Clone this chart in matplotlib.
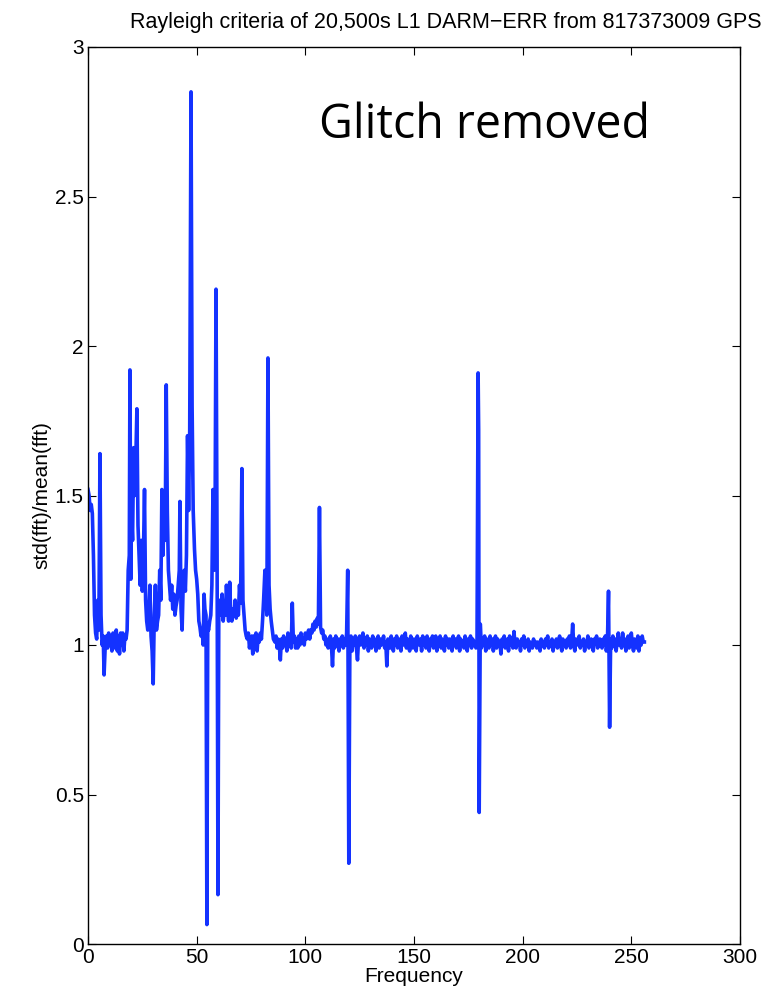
import matplotlib
matplotlib.use("Agg")
import matplotlib.pyplot as plt

# std(fft)/mean(fft), low-frequency part (0-85 Hz)
freq_low = [0.0, 0.5, 1.0, 1.5, 2.0, 2.5, 3.0, 3.5, 4.0, 4.5, 5.0, 5.5, 6.0, 6.5, 7.0, 7.4,
            8.0, 8.5, 9.0, 9.5, 10.0, 10.5, 11.0, 11.5, 12.0, 12.5, 13.0, 13.5, 14.0, 14.5,
            15.0, 15.5, 16.0, 16.5, 17.0, 17.5, 18.0, 18.5, 19.0, 19.3, 19.7, 20.0, 20.5,
            21.0, 21.5, 22.0, 22.5, 23.0, 23.5, 24.0, 24.5, 25.0, 25.5, 26.0, 26.5, 27.0,
            27.5, 28.0, 28.5, 29.0, 29.5, 30.0, 30.5, 31.0, 31.5, 32.0, 32.5, 33.0, 33.5,
            34.0, 34.5, 35.0, 35.5, 36.0, 36.5, 37.0, 37.5, 38.0, 38.5, 39.0, 39.5, 40.0,
            40.5, 41.0, 41.5, 42.0, 42.3, 42.8, 43.3, 43.8, 44.3, 44.8, 45.3, 45.8, 46.3,
            46.8, 47.4, 47.9, 48.4, 49.0, 49.5, 50.0, 50.5, 51.0, 51.5, 52.0, 52.5, 53.0,
            53.4, 53.8, 54.3, 54.7, 55.1, 55.5, 56.0, 56.5, 57.0, 57.5, 58.0, 58.4, 58.9,
            59.4, 59.8, 60.2, 60.7, 61.2, 61.7, 62.2, 62.7, 63.2, 63.7, 64.2, 64.7, 65.2,
            65.7, 66.2, 66.7, 67.2, 67.7, 68.2, 68.7, 69.2, 69.7, 70.2, 70.8, 71.3, 71.8,
            72.3, 72.8, 73.3, 73.8, 74.3, 74.8, 75.3, 75.8, 76.3, 76.8, 77.3, 77.8, 78.3,
            78.8, 79.3, 79.8, 80.3, 80.8, 81.4, 81.9, 82.3, 82.8, 83.3, 83.8, 84.3, 84.8,
            85.3]
ratio_low = [1.52, 1.50, 1.45, 1.47, 1.44, 1.30, 1.10, 1.04, 1.02, 1.15, 1.05, 1.64, 1.10, 1.00, 1.03, 0.90,
             1.01, 1.03, 0.99, 1.04, 1.00, 1.03, 0.98, 1.04, 1.01, 0.99, 1.05, 0.98, 1.03, 0.97,
             1.04, 1.00, 1.04, 0.98, 1.03, 1.02, 1.05, 1.25, 1.30, 1.92, 1.22, 1.45, 1.35,
             1.66, 1.50, 1.62, 1.79, 1.40, 1.30, 1.20, 1.35, 1.18, 1.30, 1.52, 1.15, 1.08,
             1.05, 1.12, 1.20, 1.03, 0.98, 0.87, 1.10, 1.20, 1.05, 1.08, 1.10, 1.25, 1.15,
             1.52, 1.30, 1.45, 1.35, 1.87, 1.45, 1.25, 1.20, 1.15, 1.20, 1.12, 1.17, 1.10,
             1.13, 1.15, 1.20, 1.25, 1.48, 1.12, 1.05, 1.20, 1.25, 1.18, 1.30, 1.70, 1.45,
             1.72, 2.85, 1.80, 1.45, 1.32, 1.25, 1.22, 1.17, 1.08, 1.06, 1.03, 1.05, 1.00,
             1.17, 1.12, 1.10, 0.065, 1.06, 1.05, 1.08, 1.10, 1.20, 1.52, 1.25, 1.30, 2.19,
             1.30, 0.165, 1.15, 1.12, 1.10, 1.17, 1.08, 1.12, 1.10, 1.20, 1.13, 1.08, 1.21,
             1.10, 1.08, 1.12, 1.10, 1.15, 1.09, 1.12, 1.10, 1.20, 1.14, 1.59, 1.15, 1.10,
             1.05, 1.03, 1.02, 1.04, 0.99, 1.02, 1.03, 0.97, 1.03, 1.02, 1.04, 0.98, 1.03,
             1.01, 1.04, 1.02, 1.08, 1.15, 1.25, 1.20, 1.10, 1.96, 1.20, 1.12, 1.08, 1.05,
             1.02]

# flat part (86-256 Hz, 0.5 Hz bins), mostly ~1 with the line harmonics
freq_high = [86.0, 86.5, 87.0, 87.5, 88.0, 88.5, 89.0, 89.5, 90.0, 90.5, 91.0, 91.5, 92.0, 92.5, 93.0, 93.5, 94.0, 94.5, 95.0, 95.5,
             96.0, 96.5, 97.0, 97.5, 98.0, 98.5, 99.0, 99.5, 100.0, 100.5, 101.0, 101.5, 102.0, 102.5, 103.0, 103.5, 104.0, 104.5, 105.0, 105.5,
             106.0, 106.5, 107.0, 107.5, 108.0, 108.5, 109.0, 109.5, 110.0, 110.5, 111.0, 111.5, 112.0, 112.5, 113.0, 113.5, 114.0, 114.5, 115.0, 115.5,
             116.0, 116.5, 117.0, 117.5, 118.0, 118.5, 119.0, 119.5, 120.0, 120.5, 121.0, 121.5, 122.0, 122.5, 123.0, 123.5, 124.0, 124.5, 125.0, 125.5,
             126.0, 126.5, 127.0, 127.5, 128.0, 128.5, 129.0, 129.5, 130.0, 130.5, 131.0, 131.5, 132.0, 132.5, 133.0, 133.5, 134.0, 134.5, 135.0, 135.5,
             136.0, 136.5, 137.0, 137.5, 138.0, 138.5, 139.0, 139.5, 140.0, 140.5, 141.0, 141.5, 142.0, 142.5, 143.0, 143.5, 144.0, 144.5, 145.0, 145.5,
             146.0, 146.5, 147.0, 147.5, 148.0, 148.5, 149.0, 149.5, 150.0, 150.5, 151.0, 151.5, 152.0, 152.5, 153.0, 153.5, 154.0, 154.5, 155.0, 155.5,
             156.0, 156.5, 157.0, 157.5, 158.0, 158.5, 159.0, 159.5, 160.0, 160.5, 161.0, 161.5, 162.0, 162.5, 163.0, 163.5, 164.0, 164.5, 165.0, 165.5,
             166.0, 166.5, 167.0, 167.5, 168.0, 168.5, 169.0, 169.5, 170.0, 170.5, 171.0, 171.5, 172.0, 172.5, 173.0, 173.5, 174.0, 174.5, 175.0, 175.5,
             176.0, 176.5, 177.0, 177.5, 178.0, 178.5, 179.0, 179.5, 179.75, 180.0, 180.5, 181.0, 181.5, 182.0, 182.5, 183.0, 183.5, 184.0, 184.5, 185.0, 185.5,
             186.0, 186.5, 187.0, 187.5, 188.0, 188.5, 189.0, 189.5, 190.0, 190.5, 191.0, 191.5, 192.0, 192.5, 193.0, 193.5, 194.0, 194.5, 195.0, 195.5,
             196.0, 196.5, 197.0, 197.5, 198.0, 198.5, 199.0, 199.5, 200.0, 200.5, 201.0, 201.5, 202.0, 202.5, 203.0, 203.5, 204.0, 204.5, 205.0, 205.5,
             206.0, 206.5, 207.0, 207.5, 208.0, 208.5, 209.0, 209.5, 210.0, 210.5, 211.0, 211.5, 212.0, 212.5, 213.0, 213.5, 214.0, 214.5, 215.0, 215.5,
             216.0, 216.5, 217.0, 217.5, 218.0, 218.5, 219.0, 219.5, 220.0, 220.5, 221.0, 221.5, 222.0, 222.5, 223.0, 223.5, 224.0, 224.5, 225.0, 225.5,
             226.0, 226.5, 227.0, 227.5, 228.0, 228.5, 229.0, 229.5, 230.0, 230.5, 231.0, 231.5, 232.0, 232.5, 233.0, 233.5, 234.0, 234.5, 235.0, 235.5,
             236.0, 236.5, 237.0, 237.5, 238.0, 238.5, 239.0, 239.5, 240.0, 240.5, 241.0, 241.5, 242.0, 242.5, 243.0, 243.5, 244.0, 244.5, 245.0, 245.5,
             246.0, 246.5, 247.0, 247.5, 248.0, 248.5, 249.0, 249.5, 250.0, 250.5, 251.0, 251.5, 252.0, 252.5, 253.0, 253.5, 254.0, 254.5, 255.0, 255.5,
             256.0]
ratio_high = [1.01, 1.03, 0.99, 1.02, 1.00, 0.95, 1.02, 0.99, 1.03, 1.00, 1.02, 0.98, 1.04, 1.00, 1.02, 0.99, 1.14, 1.01, 1.03, 0.99,
              1.02, 0.99, 1.03, 1.00, 1.04, 1.01, 1.02, 1.00, 1.04, 1.02, 1.03, 1.05, 1.02, 1.05, 1.04, 1.07, 1.05, 1.08, 1.06, 1.09,
              1.07, 1.46, 1.06, 1.04, 1.05, 1.02, 1.03, 1.00, 1.02, 0.99, 1.01, 1.03, 1.00, 0.93, 1.02, 0.99, 1.03, 1.00, 1.02, 0.98,
              1.02, 1.00, 1.03, 0.99, 1.02, 1.00, 1.04, 1.25, 0.27, 1.01, 1.03, 0.98, 1.02, 1.00, 1.03, 0.99, 0.95, 1.02, 1.03, 1.00,
              1.01, 1.04, 0.99, 1.02, 1.00, 1.03, 0.98, 1.02, 1.01, 0.99, 1.03, 1.00, 1.02, 0.98, 1.01, 1.03, 0.99, 1.02, 1.00, 1.01,
              1.03, 0.99, 1.01, 0.93, 1.02, 1.00, 0.99, 1.03, 1.01, 0.98, 1.02, 1.00, 1.03, 0.99, 1.01, 1.02, 0.98, 1.03, 1.00, 1.02,
              1.04, 0.99, 1.02, 1.00, 0.98, 1.03, 1.01, 0.99, 1.02, 1.00, 0.98, 1.03, 1.01, 1.00, 1.02, 0.98, 1.03, 1.00, 1.02, 0.99,
              1.03, 1.01, 0.98, 1.02, 1.00, 1.03, 0.99, 1.01, 1.03, 0.98, 1.02, 1.00, 1.03, 0.99, 1.02, 1.01, 0.98, 1.03, 1.00, 1.02,
              0.99, 1.02, 1.01, 0.98, 1.03, 1.00, 1.02, 0.99, 1.01, 1.03, 0.98, 1.02, 1.00, 1.01, 0.99, 1.03, 1.01, 0.98, 1.02, 1.00,
              1.03, 0.99, 1.02, 1.00, 1.01, 0.99, 1.02, 1.91, 1.72, 0.44, 1.07, 0.99, 1.02, 1.00, 1.03, 0.98, 1.02, 1.01, 0.99, 1.03, 1.00,
              1.02, 0.98, 1.01, 1.03, 0.99, 1.02, 1.00, 1.01, 0.97, 1.02, 1.00, 1.03, 0.99, 1.01, 1.02, 0.98, 1.03, 1.00, 1.01, 0.99,
              1.045, 1.00, 0.99, 1.02, 1.00, 1.01, 0.98, 1.02, 1.00, 1.03, 0.99, 1.01, 1.00, 1.02, 0.98, 1.01, 1.00, 0.99, 1.02, 1.00,
              1.01, 0.99, 1.01, 1.00, 0.98, 1.02, 1.00, 1.01, 0.99, 1.02, 1.00, 1.03, 0.99, 1.01, 1.00, 1.02, 0.98, 1.01, 1.00, 1.02,
              0.99, 1.01, 1.03, 1.00, 0.98, 1.02, 1.00, 1.01, 0.99, 1.02, 1.00, 1.03, 0.99, 1.01, 1.07, 1.00, 0.98, 1.02, 1.00, 1.01,
              1.03, 0.99, 1.01, 1.00, 1.02, 0.98, 1.01, 1.00, 1.03, 0.99, 1.01, 1.02, 1.00, 0.98, 1.02, 1.01, 1.03, 0.99, 1.00, 1.02,
              1.01, 0.99, 1.02, 1.00, 1.03, 0.98, 1.01, 1.18, 0.725, 1.02, 0.99, 1.03, 1.00, 1.02, 0.98, 1.01, 1.04, 1.00, 1.02, 0.99,
              1.04, 1.00, 1.02, 0.98, 1.01, 1.03, 0.99, 1.02, 1.04, 1.00, 0.98, 1.02, 1.01, 0.99, 1.03, 0.98, 1.02, 1.00, 1.03, 1.01,
              1.01]

freq = freq_low + freq_high
ratio = ratio_low + ratio_high

plt.rcParams['font.family'] = ['Liberation Sans', 'DejaVu Sans']

fig = plt.figure(figsize=(7.66, 10), dpi=100)
ax = fig.add_axes([88/766, 56/1000, 652/766, 897/1000])

ax.plot(freq, ratio, color='#1432ff', linewidth=2.6)

ax.set_xlim(0, 300)
ax.set_ylim(0, 3)
ax.set_xticks([0, 50, 100, 150, 200, 250, 300])
ax.set_yticks([0, 0.5, 1, 1.5, 2, 2.5, 3])
ax.set_yticklabels(['0', '0.5', '1', '1.5', '2', '2.5', '3'])
ax.tick_params(direction='in', length=6, width=0.8, top=True, right=True,
               labelsize=15, pad=3)
for s in ax.spines.values():
    s.set_linewidth(1.0)

ax.set_xlabel('Frequency', fontsize=15, labelpad=0)
ax.set_ylabel('std(fft)/mean(fft)', fontsize=15, labelpad=2)
fig.text(762/766, 1 - 28/1000,
         'Rayleigh criteria of 20,500s L1 DARM\u2212ERR from 817373009 GPS',
         fontsize=15.5, ha='right', va='baseline')

ax.text(0.355, 0.913, 'Glitch removed', transform=ax.transAxes,
        fontsize=33.5, family='Open Sans', va='center', ha='left')

fig.savefig('out.png', dpi=100)
